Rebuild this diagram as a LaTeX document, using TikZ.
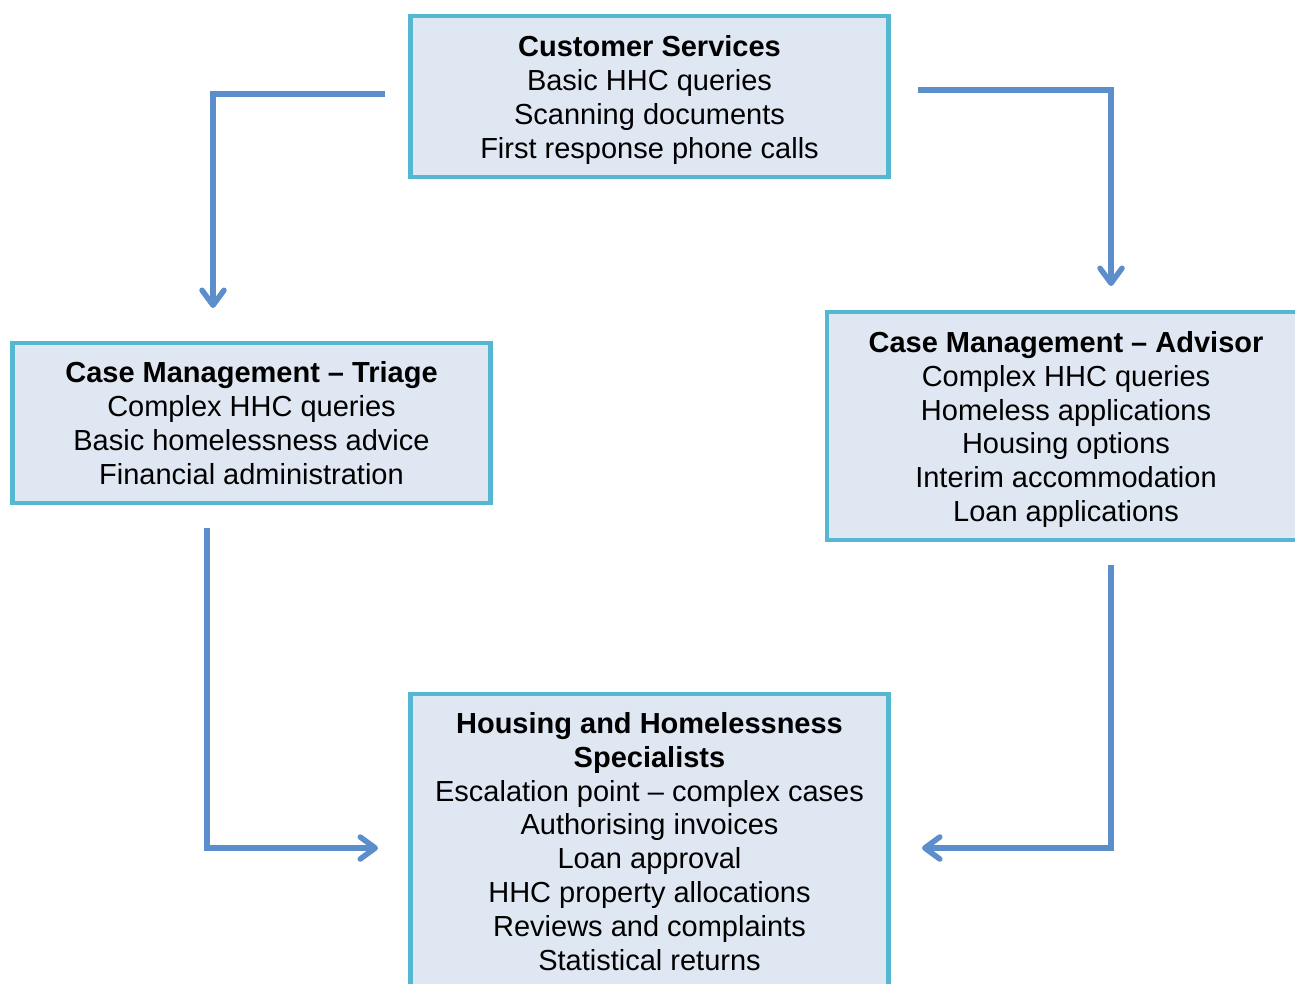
\documentclass[tikz,border=0pt]{standalone}
\usepackage{fontspec}
\setmainfont{Liberation Sans}
\usetikzlibrary{arrows.meta}
\usetikzlibrary{positioning}

\definecolor{boxfill}{HTML}{DFE7F2}
\definecolor{boxline}{HTML}{55B7D1}
\definecolor{flowblue}{HTML}{5B8ECA}

\tikzset{
	rolebox/.style={draw=boxline, line width=4.5pt, fill=boxfill, minimum width=478pt, align=center, inner sep=0pt, font=\fontsize{29}{33.8}\selectfont},
	flow/.style={draw=flowblue, line width=5.5pt, -{Straight Barb[length=15pt,width=22pt,line cap=round,line join=round]}}
}

\begin{document}
\begin{tikzpicture}[x=1pt,y=-1pt]
	\useasboundingbox (0,0) rectangle (1295,983);
	\clip (0,0) rectangle (1295,983);
	\node[rolebox, minimum height=161pt] (cs) at (649.5,96.5) {\rule{0pt}{28pt}\textbf{Customer Services}\\Basic HHC queries\\Scanning documents\\First response phone calls};
	\node[rolebox, minimum height=160pt] (triage) at (251.5,423) {\textbf{Case Management -- Triage}\\Complex HHC queries\\Basic homelessness advice\\Financial administration};
	\node[rolebox, minimum height=228pt] (advisor) at (1066,426) {\rule{0pt}{28pt}\textbf{Case Management -- Advisor}\\Complex HHC queries\\Homeless applications\\Housing options\\Interim accommodation\\Loan applications};
	\node[rolebox, minimum height=295pt] (spec) at (649.5,841.5) {\textbf{Housing and Homelessness}\\\textbf{Specialists}\\Escalation point -- complex cases\\Authorising invoices\\Loan approval\\HHC property allocations\\Reviews and complaints\\Statistical returns};

	\coordinate (cs-out-l) at (385,94);
	\coordinate (triage-in) at (213,308);
	\coordinate (cs-out-r) at (918,90);
	\coordinate (advisor-in) at (1111,286);
	\coordinate (triage-out) at (207,528);
	\coordinate (spec-in-l) at (378,848);
	\coordinate (advisor-out) at (1111,565);
	\coordinate (spec-in-r) at (922,848);

	\draw[flow] (cs-out-l) -| (triage-in);
	\draw[flow] (cs-out-r) -| (advisor-in);
	\draw[flow] (triage-out) |- (spec-in-l);
	\draw[flow] (advisor-out) |- (spec-in-r);
\end{tikzpicture}
\end{document}
